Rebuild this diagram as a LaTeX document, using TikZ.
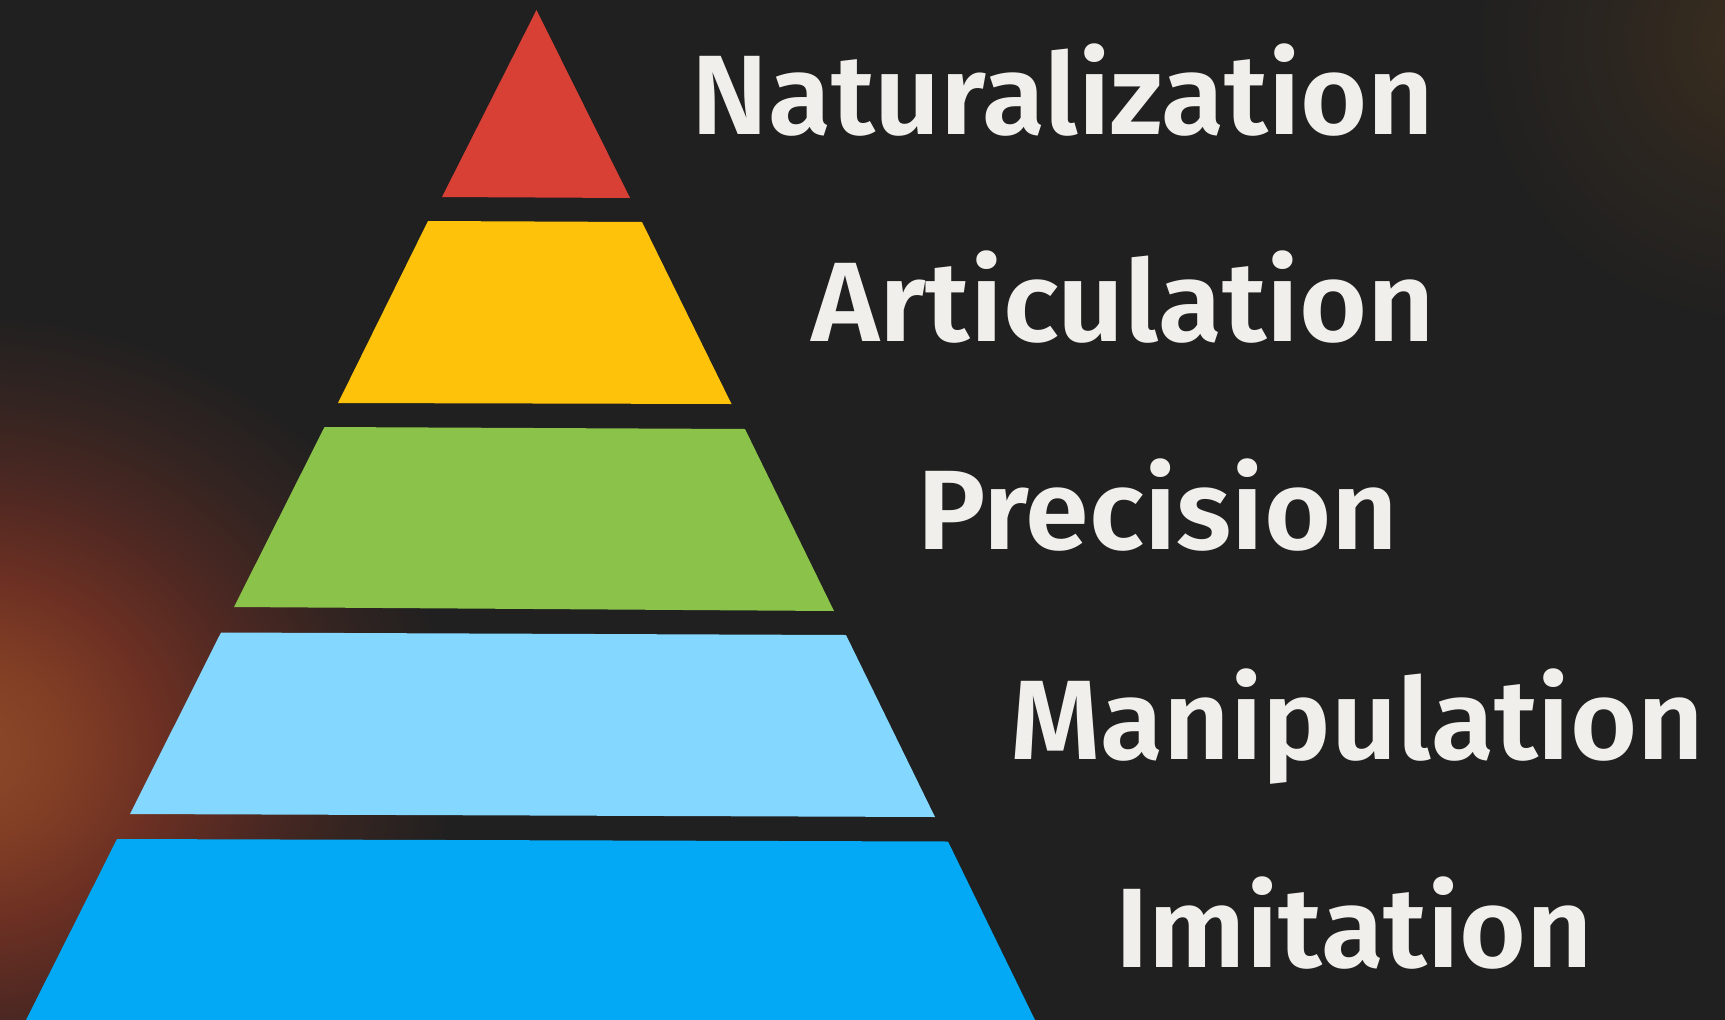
\documentclass[tikz,border=0pt]{standalone}
\usepackage{fontspec}
\usepackage{graphicx}
\newfontfamily\lblfont{Fira Sans}[UprightFont={* SemiBold}]
\definecolor{bg}{HTML}{202020}
\definecolor{g0}{HTML}{8C4A28}
\definecolor{g1}{HTML}{833F25}
\definecolor{g2}{HTML}{6C3023}
\definecolor{g3}{HTML}{4E2822}
\definecolor{g4}{HTML}{332421}
\definecolor{t0}{HTML}{3B2E1E}
\definecolor{t1}{HTML}{2C2620}
\definecolor{redc}{HTML}{D84036}
\definecolor{yelc}{HTML}{FFC20A}
\definecolor{grnc}{HTML}{8BC34A}
\definecolor{lbc}{HTML}{84D8FF}
\definecolor{bc}{HTML}{03A9F4}
\definecolor{txt}{HTML}{F0EFEB}
\pgfdeclareradialshading{leftglow}{\pgfpoint{0bp}{0bp}}{color(0bp)=(g0); color(5bp)=(g1); color(10bp)=(g2); color(15bp)=(g3); color(20bp)=(g4); color(25bp)=(bg); color(50bp)=(bg)}
\pgfdeclareradialshading{trglow}{\pgfpoint{0bp}{0bp}}{color(0bp)=(t0); color(12bp)=(t1); color(25bp)=(bg); color(50bp)=(bg)}
\begin{document}
\begin{tikzpicture}[x=1pt,y=-1pt,
  lbl/.style={anchor=base west, inner sep=0pt, text=txt, font=\lblfont\fontsize{113}{113}\selectfont},
  band/.style={draw=none}]
\useasboundingbox (0,0) rectangle (1725,1020);
\fill[bg] (0,0) rectangle (1725,1020);
\begin{scope}
  \clip (0,0) rectangle (1725,1020);
  \shade[shading=leftglow] (-40,750) ellipse (500pt and 440pt);
  \shade[shading=trglow] (1760,40) circle (290pt);
\end{scope}
% pyramid bands
\fill[band, redc] (536.5,10) -- (630,198) -- (442,197) -- cycle;
\fill[band, yelc] (428,221) -- (642,222) -- (731.5,404) -- (338,403) -- cycle;
\fill[band, grnc] (324.5,427) -- (745,429) -- (834,611) -- (234,607) -- cycle;
\fill[band, lbc] (221,632.5) -- (846,635) -- (935,817) -- (130,814) -- cycle;
\fill[band, bc] (117,839) -- (948,841.5) -- (1035,1020) -- (26,1020) -- cycle;
% labels
\node[lbl] (nat) at (691,134) {\resizebox{743pt}{\height}{Naturalization}};
\node[lbl] (art) at (811,341) {\resizebox{624pt}{\height}{Articulation}};
\node[lbl] (pre) at (917,549) {\resizebox{481pt}{\height}{Precision}};
\node[lbl] (man) at (1010,759) {\resizebox{694pt}{\height}{Manipulation}};
\node[lbl] (imi) at (1115,967) {\resizebox{478pt}{\height}{Imitation}};
\end{tikzpicture}
\end{document}
